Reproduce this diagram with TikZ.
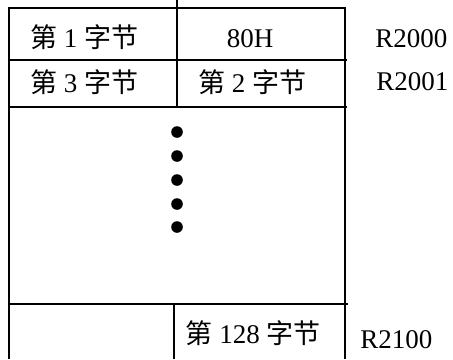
\documentclass[tikz,border=0pt]{standalone}
\usepackage{fontspec}
\setmainfont{Liberation Serif}
\newfontfamily\cjk{Noto Sans CJK SC}
\usepackage{tikz}
\usetikzlibrary{calc,positioning}
\newcommand{\zijie}[1]{{\cjk 第} #1 {\cjk 字节}}

\begin{document}
\begin{tikzpicture}[x=0.5pt,y=-0.5pt,
    gridline/.style={line width=1pt, black},
    celltext/.style={anchor=base, inner sep=0pt, font=\fontsize{13.5}{16}\selectfont},
    addr/.style={anchor=base west, inner sep=0pt, font=\fontsize{13.5}{16}\selectfont}]
        \useasboundingbox (0,0) rectangle (453,359);
        % Outer frame, open at the bottom
        \draw[gridline] (9,359) -- (9,8) -- (345,8) -- (345,359);
        % Row separators
        \draw[gridline] (9,60) -- (347,60);
        \draw[gridline] (9,107) -- (347,107);
        \draw[gridline] (9,304) -- (348,304);
        % Column separators
        \draw[gridline] (177,0) -- (177,107);
        \draw[gridline] (174,304) -- (174,359);
        % Cell contents
        \node[celltext] (b1) at (84,47) {\zijie{1}};
        \node[celltext] (h80) at (250,47) {80H};
        \node[celltext] (b3) at (84,92) {\zijie{3}};
        \node[celltext] (b2) at (252,92) {\zijie{2}};
        \node[celltext] (b128) at (253,343) {\zijie{128}};
        % Ellipsis dots
        \foreach \y [count=\i] in {132,156,180,204,227}
          \fill (177,\y) circle[radius=2.9pt] coordinate (dot\i);
        % Address labels
        \node[addr] (r2000) at (375,47) {R2000};
        \node[addr] (r2001) at (376,90) {R2001};
        \node[addr] (r2100) at (360,348) {R2100};
\end{tikzpicture}
\end{document}
